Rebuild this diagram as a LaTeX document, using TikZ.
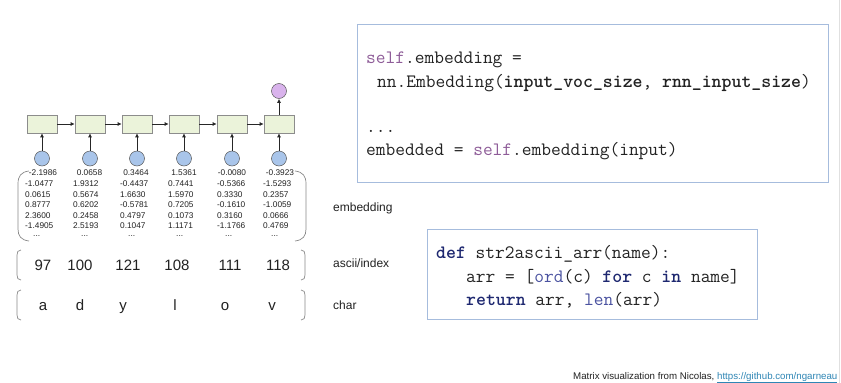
\documentclass[tikz,border=0pt]{standalone}
\usepackage{fontspec}
\setmainfont{Liberation Sans}
\usetikzlibrary{arrows.meta}

\definecolor{cellfill}{HTML}{EBF3DA}
\definecolor{cellline}{HTML}{8C8C8C}
\definecolor{infill}{HTML}{A9C5EA}
\definecolor{outfill}{HTML}{D9B3EC}
\definecolor{codeframe}{HTML}{A6BCDD}
\definecolor{selfcol}{HTML}{8E5C98}
\definecolor{kwcol}{HTML}{1E2870}
\definecolor{fncol}{HTML}{4A52A0}
\definecolor{linkcol}{HTML}{2F86B5}
\definecolor{bracketcol}{HTML}{8A8A8A}
\definecolor{textcol}{HTML}{222222}

\begin{document}
\begin{tikzpicture}[x=1pt,y=-1pt,
  cell/.style={draw=cellline, fill=cellfill, minimum width=30pt, minimum height=18pt, inner sep=0pt, line width=0.6pt},
  inp/.style={circle, draw=black!65, fill=infill, minimum size=15pt, inner sep=0pt, line width=0.5pt},
  outp/.style={circle, draw=black!65, fill=outfill, minimum size=15pt, inner sep=0pt, line width=0.5pt},
  flow/.style={-{Latex[length=4pt,width=4pt]}, line width=0.8pt, black!85},
  num/.style={font=\fontsize{8.3}{9}\selectfont, inner sep=0pt, text=textcol},
  big/.style={font=\fontsize{15}{17}\selectfont, inner sep=0pt, text=textcol},
  lab/.style={font=\fontsize{12}{14}\selectfont, anchor=west, inner sep=0pt, text=textcol},
  code/.style={font=\ttfamily\fontsize{18.9}{21}\selectfont, anchor=base west, inner sep=0pt, text=textcol},
  frame/.style={draw=codeframe, line width=1.3pt, anchor=north west, inner sep=0pt},
  brk/.style={draw=bracketcol, line width=0.7pt}
]
\useasboundingbox (0,0) rectangle (841,383);
\fill[white] (0,0) rectangle (841,383);
\draw[black!12, line width=0.6pt] (839,0) -- (839,383);

% recurrent cells, their inputs and the output
\foreach \k/\cx in {1/42,2/90,3/137,4/184,5/232,6/279}{
  \node[cell] (c\k) at (\cx,124) {};
  \node[inp] (i\k) at (\cx,158.5) {};
  \draw[flow] (i\k) -- (c\k);
}
\foreach \k/\m in {1/2,2/3,3/4,4/5,5/6}{
  \draw[flow] (c\k) -- (c\m);
}
\node[outp] (out) at (279,91) {};
\draw[flow] (c6) -- (out);

% embedding matrix, one column per character
\foreach \cx/\lx/\a/\b/\c/\d/\e/\f [count=\k] in {
  43/25/-2.1986/-1.0477/0.0615/0.8777/2.3600/-1.4905,
  89.5/73/0.0658/1.9312/0.5674/0.6202/0.2458/2.5193,
  136/120/0.3464/-0.4437/1.6630/-0.5781/0.4797/0.1047,
  184/168/1.5361/0.7441/1.5970/0.7205/0.1073/1.1171,
  232/217/-0.0080/-0.5366/0.3330/-0.1610/0.3160/-1.1766,
  280/263/-0.3923/-1.5293/0.2357/-1.0059/0.0666/0.4769}{
  \node[num] (m\k-1) at (\cx,173) {\a};
  \node[num, anchor=west] (m\k-2) at (\lx,183.7) {\b};
  \node[num, anchor=west] (m\k-3) at (\lx,194.3) {\c};
  \node[num, anchor=west] (m\k-4) at (\lx,204.9) {\d};
  \node[num, anchor=west] (m\k-5) at (\lx,215.5) {\e};
  \node[num, anchor=west] (m\k-6) at (\lx,226.1) {\f};
  \node[num, anchor=west] (m\k-7) at (\lx+8,236) {...};
}
\draw[brk] (29,171) .. controls (21,172) and (18,176) .. (18,184) -- (18,229)
           .. controls (18,236) and (21,240) .. (29,241);
\draw[brk] (295,171) .. controls (303,172) and (306,176) .. (306,184) -- (306,229)
           .. controls (306,236) and (303,240) .. (295,241);

% ascii codes
\foreach \cx/\v [count=\k] in {43/97,80/100,128/121,177/108,230/111,278/118}{
  \node[big] (a\k) at (\cx,265) {\v};
}
\draw[brk] (21,250) .. controls (18,250) and (17,252) .. (17,255) -- (17,275)
           .. controls (17,278) and (18,280) .. (21,280);
\draw[brk] (301,250) .. controls (304,250) and (305,252) .. (305,255) -- (305,275)
           .. controls (305,278) and (304,280) .. (301,280);

% characters
\foreach \cx/\v [count=\k] in {43/a,80/d,123/y,175/l,225/o,272/v}{
  \node[big, anchor=base] (ch\k) at (\cx,310) {\v};
}
\draw[brk] (21,290) .. controls (18,290) and (17,292) .. (17,295) -- (17,315)
           .. controls (17,318) and (18,320) .. (21,320);
\draw[brk] (301,290) .. controls (304,290) and (305,292) .. (305,295) -- (305,315)
           .. controls (305,318) and (304,320) .. (301,320);

% row labels
\node[lab] (lemb) at (333,208) {embedding};
\node[lab] (lasc) at (333,263) {ascii/index};
\node[lab] (lchr) at (333,305) {char};

% embedding layer code
\node[frame, minimum width=471pt, minimum height=158pt] (box1) at (357,24) {};
\node[code] (l1) at (366,63) {\textcolor{selfcol}{self}.embedding =};
\node[code] (l2) at (377,87) {nn.Embedding(\textbf{input\_voc\_size}, \textbf{rnn\_input\_size})};
\node[code] (l3) at (366,132) {...};
\node[code] (l4) at (366,155) {embedded = \textcolor{selfcol}{self}.embedding(input)};

% conversion code
\node[frame, minimum width=330pt, minimum height=90pt] (box2) at (427,229) {};
\node[code] (k1) at (436,258) {\textbf{\textcolor{kwcol}{def}} str2ascii\_arr(name):};
\node[code] (k2) at (466,282) {arr = [\textcolor{fncol}{ord}(c) \textbf{\textcolor{kwcol}{for}} c \textbf{\textcolor{kwcol}{in}} name]};
\node[code] (k3) at (466,305) {\textbf{\textcolor{kwcol}{return}} arr, \textcolor{fncol}{len}(arr)};

% credit line
\node[font=\fontsize{9.7}{11}\selectfont, anchor=base west, inner sep=0pt, text=textcol] (credit) at (573,379)
  {Matrix visualization from Nicolas, \textcolor{linkcol}{\underline{https://github.com/ngarneau}}};
\end{tikzpicture}
\end{document}
